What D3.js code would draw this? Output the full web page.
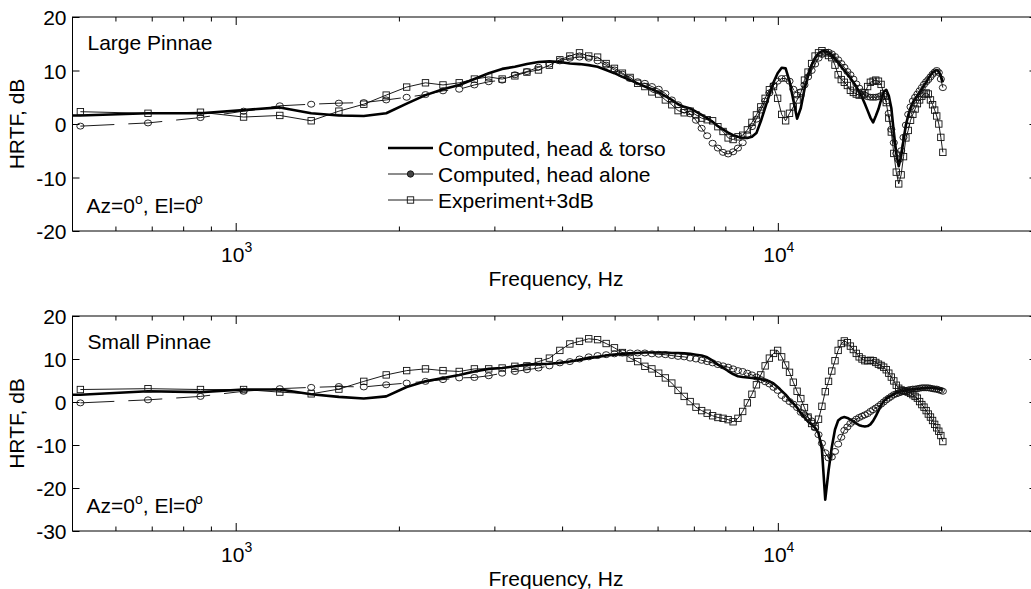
<!DOCTYPE html>
<html>
<head>
<meta charset="utf-8">
<script src="https://cdn.jsdelivr.net/npm/d3@7"></script>
<style>
  body { margin: 0; background: #fff; }
  svg text { font-family: "Liberation Sans", Arial, Helvetica, sans-serif; fill: #000; }
</style>
</head>
<body>
<svg id="chart" width="1031" height="589"></svg>
<script>
// Frequency bins (Hz) shared by the head-alone model and the measurement
const freqHz = [
  517, 689, 861, 1034, 1206, 1378, 1550, 1723, 1895, 2067,
  2239, 2412, 2584, 2756, 2929, 3101, 3273, 3445, 3618, 3790,
  3962, 4134, 4307, 4479, 4651, 4823, 4996, 5168, 5340, 5513,
  5685, 5857, 6029, 6202, 6374, 6546, 6718, 6891, 7063, 7235,
  7407, 7580, 7752, 7924, 8097, 8269, 8441, 8613, 8786, 8958,
  9130, 9302, 9475, 9647, 9819, 9991, 10164, 10336, 10508, 10680,
  10853, 11025, 11197, 11370, 11542, 11714, 11886, 12059, 12231, 12403,
  12575, 12748, 12920, 13092, 13264, 13437, 13609, 13781, 13954, 14126,
  14298, 14470, 14643, 14815, 14987, 15159, 15332, 15504, 15676, 15848,
  16021, 16193, 16365, 16538, 16710, 16882, 17054, 17227, 17399, 17571,
  17743, 17916, 18088, 18260, 18432, 18605, 18777, 18949, 19121, 19294,
  19466, 19638, 19811, 19983, 20155
];
// The head & torso model also has one bin below the plotted range
const torsoFreqHz = [345].concat(freqHz);

// ---- Large pinnae (dB) ----
const largeTorso = [
  1.4, 1.6, 2.0, 2.0, 2.6, 3.1, 2.0, 1.6, 1.5, 2.0,
  3.8, 5.4, 6.5, 7.3, 8.4, 9.5, 10.3, 10.7, 11.2, 11.6,
  11.7, 11.6, 11.3, 11.2, 11.0, 10.7, 10.1, 9.5, 8.8, 8.2,
  7.6, 7.0, 6.5, 5.9, 5.2, 4.5, 3.7, 3.2, 2.9, 2.3,
  1.7, 1.1, 0.4, -0.4, -1.0, -1.6, -2.1, -2.4, -2.6, -2.6,
  -2.4, -1.7, 0.5, 3.0, 5.5, 7.8, 9.5, 10.5, 10.4, 8.0,
  4.5, 1.0, 3.0, 6.5, 9.0, 11.0, 12.3, 13.2, 13.6, 13.6,
  13.3, 12.8, 12.2, 11.5, 10.7, 10.0, 9.3, 8.6, 7.8, 7.0,
  6.0, 5.0, 3.8, 2.5, 1.2, 0.3, 1.5, 2.8, 4.5, 6.0,
  6.4, 5.3, 3.0, -1.5, -5.5, -7.9, -6.0, -3.0, -0.2, 1.6,
  3.0, 4.0, 4.7, 5.2, 5.8, 6.5, 7.2, 7.8, 8.5, 9.1,
  9.6, 9.9, 10.1, 9.8, 9.0, 7.8
];
const largeHead = [
  -0.4, 0.2, 1.2, 2.4, 3.4, 3.7, 3.9, 4.0, 4.5, 5.0,
  5.5, 6.2, 6.5, 7.3, 7.9, 8.2, 9.2, 9.8, 10.6, 11.2,
  11.8, 12.3, 12.5, 12.3, 11.8, 11.0, 10.1, 9.3, 8.5, 7.9,
  7.6, 7.0, 6.5, 5.7, 4.5, 3.6, 2.6, 1.9, 0.7, -0.8,
  -2.2, -3.6, -4.5, -5.3, -5.6, -5.2, -4.5, -3.5, -2.0, -0.5,
  0.9, 2.6, 4.3, 5.8, 7.2, 8.0, 8.5, 8.5, 8.0, 6.5,
  5.4, 6.0, 7.3, 8.8, 10.0, 11.2, 12.3, 13.0, 13.4, 13.4,
  13.1, 12.6, 12.0, 11.3, 10.6, 9.8, 9.2, 8.4, 7.5, 6.7,
  6.0, 5.4, 5.1, 5.0, 5.0, 5.0, 5.1, 5.3, 5.2, 4.3,
  2.0, -1.0, -3.5, -5.5, -6.7, -5.0, -2.5, -0.2, 1.8, 3.2,
  4.3, 5.0, 5.6, 6.2, 6.8, 7.4, 7.9, 8.3, 8.8, 9.3,
  9.7, 10.0, 9.6, 8.4, 6.8
];
const largeExp = [
  2.3, 2.0, 2.2, 1.3, 1.6, 0.6, 2.4, 3.7, 5.4, 6.9,
  7.7, 7.3, 7.7, 8.4, 8.8, 8.4, 9.0, 9.7, 10.1, 11.0,
  12.0, 12.7, 13.3, 12.7, 12.5, 11.3, 10.4, 9.5, 8.7, 7.6,
  7.0, 6.0, 5.6, 4.5, 3.6, 2.5, 2.1, 2.4, 1.7, 1.1,
  0.8, 0.6, -0.5, -1.4, -2.6, -2.9, -2.4, -2.1, -1.1, 0.3,
  1.7, 3.2, 4.8, 6.4, 7.0, 4.8, 1.8, 0.6, 2.0, 3.2,
  4.5, 5.8, 8.2, 9.7, 11.3, 12.7, 13.3, 13.7, 13.3, 12.8,
  12.4, 11.0, 9.2, 8.3, 7.8, 7.2, 6.3, 5.9, 5.6, 5.4,
  5.5, 5.8, 7.0, 7.8, 8.0, 8.2, 8.0, 7.4, 5.7, 4.0,
  1.1, -1.5, -5.5, -9.0, -11.2, -9.5, -6.1, -2.6, -1.2, 0.7,
  1.8, 2.8, 3.8, 4.5, 5.2, 5.6, 5.8, 5.6, 4.5, 3.6,
  2.6, 1.5, 0.0, -2.5, -5.3
];

// ---- Small pinnae (dB) ----
const smallTorso = [
  1.5, 1.7, 2.5, 2.3, 2.9, 2.9, 1.8, 1.2, 0.8, 1.3,
  3.5, 4.8, 5.6, 6.3, 7.1, 7.7, 7.9, 8.3, 8.7, 8.8,
  8.9, 9.1, 9.4, 9.8, 10.2, 10.5, 10.8, 11.0, 11.2, 11.3,
  11.4, 11.5, 11.5, 11.5, 11.5, 11.4, 11.4, 11.3, 11.2, 11.0,
  10.8, 10.4, 9.6, 8.7, 8.0, 7.2, 6.5, 6.0, 5.8, 5.7,
  5.6, 5.5, 5.3, 5.1, 4.8, 4.3, 3.5, 2.6, 1.7, 0.6,
  -0.3, -1.3, -2.6, -3.6, -4.6, -5.2, -6.0, -7.2, -11.0, -22.7,
  -16.0, -10.5, -6.4, -4.3, -3.7, -3.5, -3.7, -4.1, -4.5, -5.0,
  -5.4, -5.6, -5.7, -5.6, -5.2, -4.4, -3.3, -2.0, -0.8, 0.2,
  0.8, 1.2, 1.5, 1.8, 2.2, 2.4, 2.5, 2.6, 2.7, 2.8,
  2.9, 3.0, 3.0, 3.1, 3.1, 3.2, 3.2, 3.3, 3.3, 3.3,
  3.3, 3.2, 3.2, 3.1, 3.0, 2.9
];
const smallHead = [
  -0.2, 0.5, 1.3, 2.5, 3.1, 3.4, 3.6, 3.5, 4.0, 4.4,
  4.8, 5.2, 5.6, 5.7, 6.1, 6.7, 7.1, 7.5, 7.9, 8.4,
  9.1, 9.4, 10.0, 10.5, 10.8, 11.0, 11.2, 11.4, 11.4, 11.4,
  11.4, 11.2, 11.1, 11.0, 10.8, 10.6, 10.5, 10.2, 10.0, 9.7,
  9.4, 9.1, 8.7, 8.4, 8.1, 7.7, 7.3, 7.1, 6.7, 6.3,
  5.8, 5.2, 4.7, 4.2, 3.4, 2.7, 1.5, 0.8, 0.1, -0.5,
  -1.3, -2.4, -3.0, -3.6, -4.4, -6.0, -7.6, -9.6, -11.8, -13.0,
  -12.8, -11.5, -9.8, -8.2, -6.6, -5.8, -5.0, -4.5, -4.0, -3.6,
  -3.3, -3.0, -2.7, -2.2, -1.8, -1.4, -1.0, -0.5, 0.0, 0.5,
  0.9, 1.3, 1.7, 1.9, 2.1, 2.3, 2.5, 2.6, 2.8, 2.9,
  3.0, 3.0, 3.1, 3.2, 3.3, 3.3, 3.3, 3.3, 3.2, 3.1,
  3.0, 3.0, 2.8, 2.7, 2.5
];
const smallExp = [
  2.9, 3.1, 2.9, 2.9, 2.3, 1.9, 3.0, 4.8, 6.3, 7.3,
  7.7, 7.3, 7.1, 7.7, 7.7, 7.9, 8.3, 8.4, 9.4, 10.2,
  12.0, 13.5, 14.1, 14.7, 14.5, 13.6, 12.6, 11.5, 10.2, 9.4,
  8.3, 7.7, 6.7, 5.6, 4.4, 2.7, 1.3, 0.1, -1.2, -2.0,
  -2.6, -3.2, -3.6, -3.8, -4.1, -4.6, -3.8, -2.2, -0.2, 1.8,
  4.0, 6.3, 8.4, 10.2, 11.3, 12.0, 10.5, 8.6, 6.9, 4.6,
  2.5, 0.8, -1.3, -3.5, -5.0, -5.7, -4.0, -1.0, 2.4, 4.8,
  7.2, 9.6, 12.0, 13.6, 14.2, 13.8, 13.0, 12.2, 11.3, 10.5,
  10.0, 9.6, 9.6, 9.7, 9.6, 9.2, 8.8, 8.5, 8.1, 7.5,
  6.7, 5.8, 4.9, 3.9, 3.2, 2.8, 2.6, 2.5, 2.3, 2.0,
  1.7, 1.3, 0.9, 0.1, -0.6, -1.2, -2.0, -2.8, -3.5, -4.3,
  -5.2, -6.0, -6.8, -7.8, -9.2
];

// Axis ticks and labels
const xMajorTicks = [1000, 10000];
const xMajorExponents = ["3", "4"];
const xMinorTicks = [600, 700, 800, 900, 2000, 3000, 4000, 5000, 6000, 7000, 8000, 9000, 20000];
const yTicksLarge = [-20, -10, 0, 10, 20];
const yTicksSmall = [-30, -20, -10, 0, 10, 20];
const legendLabels = ["Computed, head & torso", "Computed, head alone", "Experiment+3dB"];

const svg = d3.select("#chart");
svg.append("rect").attr("width", 1031).attr("height", 589).attr("fill", "#fff");

const FONT = 21;
const x = d3.scaleLog().domain([500, 30000]).range([72.5, 1036.5]);

const panels = [
  { title: "Large Pinnae", top: 17, bottom: 231, yDomain: [-20, 20], yTicks: yTicksLarge,
    torso: largeTorso, head: largeHead, exp: largeExp, legend: true },
  { title: "Small Pinnae", top: 316, bottom: 531, yDomain: [-30, 20], yTicks: yTicksSmall,
    torso: smallTorso, head: smallHead, exp: smallExp, legend: false }
];

const defs = svg.append("defs");

function drawCircle(sel, cx, cy) {
  sel.append("ellipse").attr("cx", cx).attr("cy", cy).attr("rx", 3.6).attr("ry", 3.0)
    .attr("fill", "none").attr("stroke", "#111").attr("stroke-width", 0.9);
}
function drawSquare(sel, cx, cy) {
  sel.append("rect").attr("x", cx - 3.2).attr("y", cy - 3.2).attr("width", 6.4).attr("height", 6.4)
    .attr("fill", "none").attr("stroke", "#111").attr("stroke-width", 0.9);
}

panels.forEach((p, i) => {
  const y = d3.scaleLinear().domain(p.yDomain).range([p.bottom, p.top]);
  const x0 = x.range()[0], x1 = x.range()[1];
  const g = svg.append("g");

  defs.append("clipPath").attr("id", "clip" + i)
    .append("rect").attr("x", x0).attr("y", p.top).attr("width", x1 - x0).attr("height", p.bottom - p.top);

  // ---- axes (ticks point inward on all four sides) ----
  const styleAxis = a => { a.select(".domain").remove(); a.selectAll("line").attr("stroke", "#000").attr("stroke-width", 1); };
  g.append("g").attr("transform", `translate(0,${p.bottom})`)
    .call(d3.axisBottom(x).tickValues(xMajorTicks).tickSize(-8).tickFormat("")).call(styleAxis);
  g.append("g").attr("transform", `translate(0,${p.bottom})`)
    .call(d3.axisBottom(x).tickValues(xMinorTicks).tickSize(-4.5).tickFormat("")).call(styleAxis);
  g.append("g").attr("transform", `translate(0,${p.top})`)
    .call(d3.axisTop(x).tickValues(xMajorTicks).tickSize(-8).tickFormat("")).call(styleAxis);
  g.append("g").attr("transform", `translate(0,${p.top})`)
    .call(d3.axisTop(x).tickValues(xMinorTicks).tickSize(-4.5).tickFormat("")).call(styleAxis);

  const yl = g.append("g").attr("transform", `translate(${x0},0)`)
    .call(d3.axisLeft(y).tickValues(p.yTicks).tickSize(-7).tickPadding(6).tickFormat(d => String(d)))
    .call(styleAxis);
  yl.attr("font-family", null).attr("font-size", null);
  yl.selectAll("text").attr("font-size", FONT).attr("dy", "0.36em");
  g.append("g").attr("transform", `translate(${x1},0)`)
    .call(d3.axisRight(y).tickValues(p.yTicks).tickSize(-7).tickFormat("")).call(styleAxis);

  // box
  g.append("rect").attr("x", x0).attr("y", p.top).attr("width", x1 - x0).attr("height", p.bottom - p.top)
    .attr("fill", "none").attr("stroke", "#000").attr("stroke-width", 1);

  // decade labels 10^n
  xMajorTicks.forEach((t, j) => {
    const tx = g.append("text").attr("x", x(t) + 1).attr("y", p.bottom + 31)
      .attr("text-anchor", "middle").attr("font-size", FONT);
    tx.append("tspan").text("10");
    tx.append("tspan").attr("font-size", 14).attr("dy", -10).text(xMajorExponents[j]);
  });

  // axis titles
  g.append("text").attr("x", 556).attr("y", p.bottom + 55).attr("text-anchor", "middle")
    .attr("font-size", FONT).text("Frequency, Hz");
  g.append("text").attr("transform", `translate(24,${(p.top + p.bottom) / 2}) rotate(-90)`)
    .attr("text-anchor", "middle").attr("font-size", FONT).text("HRTF, dB");

  // ---- data ----
  const plot = g.append("g").attr("clip-path", `url(#clip${i})`);
  const torsoPts = torsoFreqHz.map((f, k) => ({ f, v: p.torso[k] }));
  const headPts = freqHz.map((f, k) => ({ f, v: p.head[k] }));
  const expPts = freqHz.map((f, k) => ({ f, v: p.exp[k] }));
  const line = d3.line().x(d => x(d.f)).y(d => y(d.v));

  plot.append("path").attr("d", line(torsoPts)).attr("fill", "none")
    .attr("stroke", "#000").attr("stroke-width", 2.6).attr("stroke-linejoin", "round");

  plot.append("path").attr("d", line(headPts)).attr("fill", "none")
    .attr("stroke", "#000").attr("stroke-width", 0.9).attr("stroke-dasharray", "34,14");
  const hm = plot.append("g");
  headPts.forEach(d => drawCircle(hm, x(d.f), y(d.v)));

  plot.append("path").attr("d", line(expPts)).attr("fill", "none")
    .attr("stroke", "#000").attr("stroke-width", 0.9);
  const em = plot.append("g");
  expPts.forEach(d => drawSquare(em, x(d.f), y(d.v)));

  // ---- annotations ----
  g.append("text").attr("x", x0 + 15).attr("y", p.top + 33).attr("font-size", FONT).text(p.title);
  const az = g.append("text").attr("x", x0 + 14).attr("y", p.bottom - 18).attr("font-size", FONT);
  az.append("tspan").text("Az=0");
  az.append("tspan").attr("font-size", 14).attr("dy", -9).text("o");
  az.append("tspan").attr("dy", 9).text(", El=0");
  az.append("tspan").attr("font-size", 14).attr("dy", -9).attr("dx", -2).text("o");

  // ---- legend ----
  if (p.legend) {
    const lx0 = 388, lx1 = 433, rows = [148, 174, 200];
    const lg = g.append("g");
    lg.append("line").attr("x1", lx0).attr("x2", lx1).attr("y1", rows[0]).attr("y2", rows[0])
      .attr("stroke", "#000").attr("stroke-width", 2.6);
    lg.append("line").attr("x1", lx0).attr("x2", lx1).attr("y1", rows[1]).attr("y2", rows[1])
      .attr("stroke", "#000").attr("stroke-width", 0.9);
    lg.append("circle").attr("cx", (lx0 + lx1) / 2).attr("cy", rows[1]).attr("r", 3.2)
      .attr("fill", "#444").attr("stroke", "#111").attr("stroke-width", 0.9);
    lg.append("line").attr("x1", lx0).attr("x2", lx1).attr("y1", rows[2]).attr("y2", rows[2])
      .attr("stroke", "#000").attr("stroke-width", 0.9);
    drawSquare(lg, (lx0 + lx1) / 2, rows[2]);
    legendLabels.forEach((t, j) => {
      lg.append("text").attr("x", lx1 + 5).attr("y", rows[j]).attr("dy", "0.36em")
        .attr("font-size", FONT).text(t);
    });
  }
});
</script>
</body>
</html>
